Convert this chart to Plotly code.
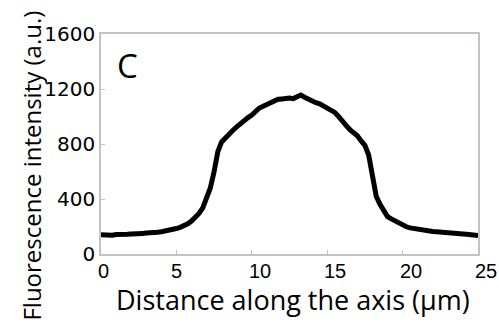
import plotly.graph_objects as go

# Distance along the axis (µm)
distance_um = [
    0.0, 0.25, 0.5, 0.75, 1.0, 1.25, 1.5, 1.75, 2.0, 2.25, 2.5, 2.75, 3.0, 3.25, 3.5, 3.75,
    4.0, 4.25, 4.5, 4.75, 5.0, 5.25, 5.5, 5.75, 6.0, 6.25, 6.5, 6.75, 7.0, 7.25, 7.5, 7.75,
    8.0, 8.25, 8.5, 8.75, 9.0, 9.25, 9.5, 9.75, 10.0, 10.25, 10.5, 10.75, 11.0, 11.25, 11.5, 11.75,
    12.0, 12.25, 12.5, 12.75, 13.0, 13.25, 13.5, 13.75, 14.0, 14.25, 14.5, 14.75, 15.0, 15.25, 15.5, 15.75,
    16.0, 16.25, 16.5, 16.75, 17.0, 17.25, 17.5, 17.75, 18.0, 18.25, 18.5, 18.75, 19.0, 19.25, 19.5, 19.75,
    20.0, 20.25, 20.5, 20.75, 21.0, 21.25, 21.5, 21.75, 22.0, 22.25, 22.5, 22.75, 23.0, 23.25, 23.5, 23.75,
    24.0, 24.25, 24.5, 24.75, 25.0,
]

# Fluorescence intensity (a.u.)
intensity_au = [
    140, 138, 141, 137, 142, 140, 139, 143, 145, 144, 148, 150, 152, 151, 155, 158,
    162, 166, 172, 178, 185, 194, 205, 220, 240, 262, 295, 335, 400, 480, 600, 745,
    815, 848, 872, 900, 925, 950, 972, 992, 1010, 1040, 1062, 1075, 1090, 1102, 1112, 1125,
    1128, 1132, 1135, 1130, 1142, 1156, 1140, 1125, 1112, 1100, 1092, 1078, 1058, 1045, 1030, 1000,
    962, 935, 905, 880, 860, 822, 790, 720, 545, 420, 362, 312, 272, 255, 240, 222,
    205, 198, 190, 184, 178, 174, 170, 166, 163, 161, 160, 157, 155, 152, 150, 148,
    145, 143, 140, 138, 135,
]

x_ticks = [0, 5, 10, 15, 20, 25]
x_tick_labels = ["0", "5", "10", "15", "20", "25"]
y_ticks = [0, 400, 800, 1200, 1600]
y_tick_labels = ["0", "400", "800", "1200", "1600"]

fig = go.Figure()
fig.add_trace(go.Scatter(
    x=distance_um, y=intensity_au, mode="lines",
    line=dict(color="black", width=5),
    showlegend=False,
))

axis_common = dict(
    showgrid=False, zeroline=False, showline=True, mirror=True,
    linecolor="#c4c0c4", linewidth=1.5,
    ticks="inside", ticklen=4, tickcolor="#c4c0c4", tickwidth=1,
)

fig.update_xaxes(
    range=[0, 25], tickvals=x_ticks, showticklabels=False,
    **axis_common,
)
fig.update_yaxes(
    range=[0, 1600], tickvals=y_ticks, ticktext=y_tick_labels,
    tickfont=dict(family="DejaVu Sans", size=20, color="black"),
    ticklabeloverflow="allow",
    **axis_common,
)

# x tick labels (placed slightly right of their ticks, as in the original)
for t, lab in zip(x_ticks, x_tick_labels):
    fig.add_annotation(
        text=lab, x=t, xref="x", y=0, yref="paper",
        xanchor="center", yanchor="middle", showarrow=False,
        xshift=(2 if len(lab) == 1 and t == 0 else (0 if len(lab) == 1 else 8)),
        yshift=-17,
        font=dict(family="Liberation Sans", size=20, color="black"),
    )

fig.add_annotation(
    text="Distance along the axis (µm)", xref="paper", yref="paper",
    x=0.509, y=-0.205, xanchor="center", yanchor="middle", showarrow=False,
    font=dict(family="Open Sans", size=27, color="black"),
)
fig.add_annotation(
    text="Fluorescence intensity (a.u.)", xref="paper", yref="paper",
    x=-0.183, y=0.402, xanchor="center", yanchor="middle", showarrow=False,
    textangle=-90,
    font=dict(family="Open Sans", size=24, color="black"),
)
fig.add_annotation(
    text="C", xref="paper", yref="paper",
    x=0.069, y=0.859, xanchor="center", yanchor="middle", showarrow=False,
    font=dict(family="Open Sans", size=33, color="black"),
)

fig.update_layout(
    width=499, height=328,
    margin=dict(l=101, r=21, t=34, b=74),
    paper_bgcolor="white", plot_bgcolor="white",
)

fig.write_html("out.html")
